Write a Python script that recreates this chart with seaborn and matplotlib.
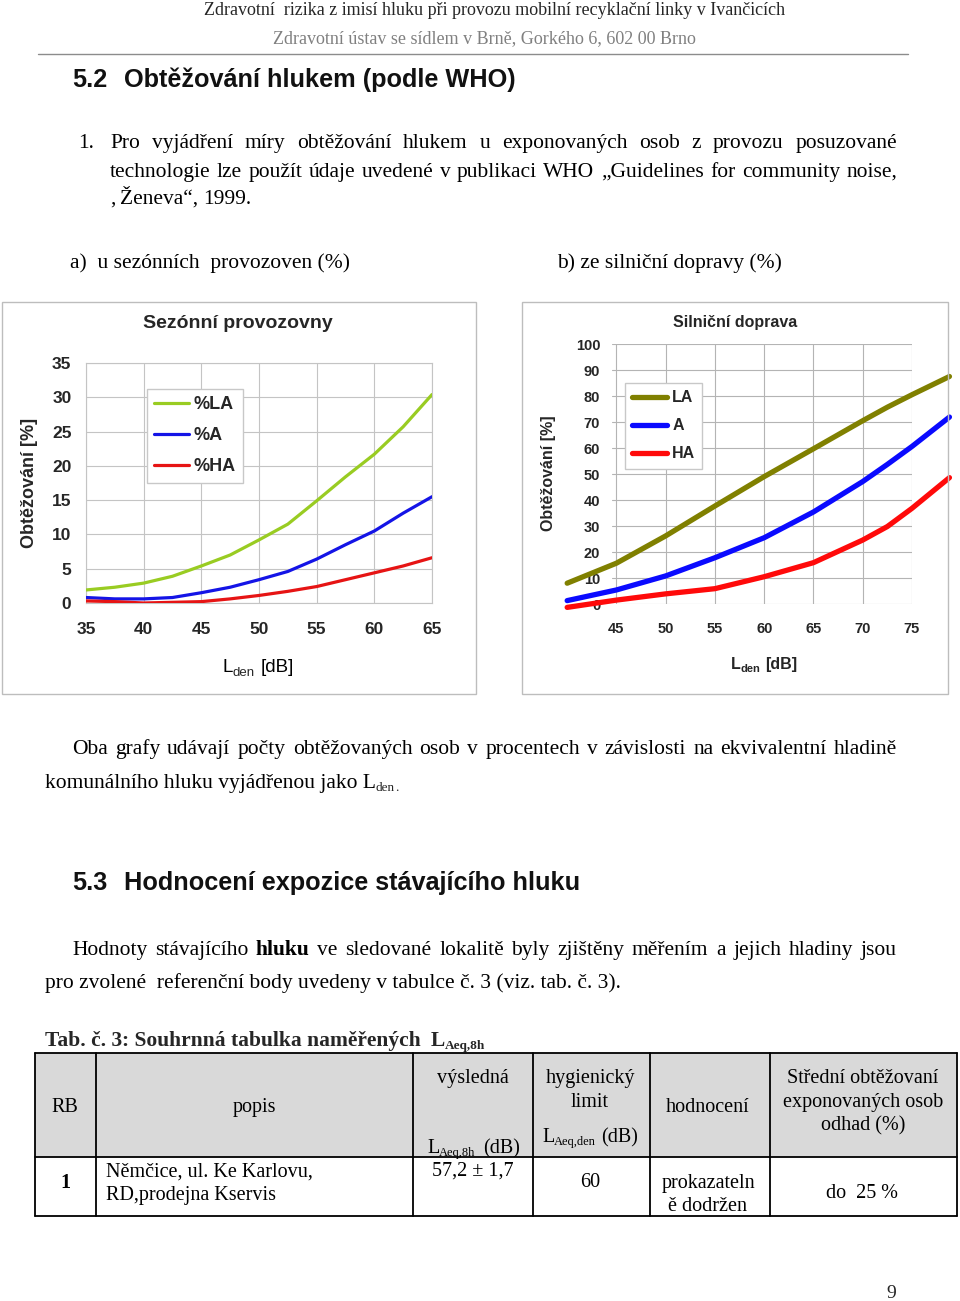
import matplotlib
matplotlib.use('Agg')
import matplotlib.pyplot as plt
from matplotlib.patches import Rectangle
from matplotlib.lines import Line2D
import seaborn as sns
import pandas as pd

# --- data: a) sezonni provozovny
lden_a = [35, 37.5, 40, 42.5, 45, 47.5, 50, 52.5, 55, 57.5, 60, 62.5, 65]
la_a = [1.9, 2.3, 2.9, 3.9, 5.4, 7.0, 9.2, 11.5, 14.9, 18.4, 21.7, 25.7, 30.4]
a_a = [0.8, 0.6, 0.6, 0.8, 1.5, 2.3, 3.4, 4.6, 6.4, 8.5, 10.5, 13.1, 15.5]
ha_a = [0.3, 0.2, 0.0, 0.1, 0.2, 0.6, 1.1, 1.7, 2.4, 3.4, 4.4, 5.4, 6.6]
labels_a = ['%LA', '%A', '%HA']
xticks_a = [35, 40, 45, 50, 55, 60, 65]
yticks_a = [0, 5, 10, 15, 20, 25, 30, 35]

# --- data: b) silnicni doprava
lden_b = [40, 45, 50, 55, 60, 65, 70, 72.5, 75, 78.8]
la_b = [8.0, 15.7, 26.2, 37.7, 49.0, 59.7, 70.5, 75.7, 80.5, 87.5]
a_b = [1.3, 5.4, 10.8, 17.8, 25.5, 35.4, 47.1, 53.7, 60.6, 71.9]
ha_b = [-1.3, 1.5, 3.9, 5.9, 10.5, 15.9, 24.6, 29.8, 36.8, 48.6]
labels_b = ['LA', 'A', 'HA']
xticks_b = [45, 50, 55, 60, 65, 70, 75]
yticks_b = [0, 10, 20, 30, 40, 50, 60, 70, 80, 90, 100]

sns.set_theme(style='white')
SANS = ['Liberation Sans', 'DejaVu Sans']
SERIF = ['Liberation Serif', 'DejaVu Serif']
plt.rcParams['font.family'] = SANS

W, H = 960, 1301
fig = plt.figure(figsize=(9.6, 13.01), dpi=100)
fig.patch.set_facecolor('white')
renderer = fig.canvas.get_renderer()


def fx(x):
    return x / W


def fy(y):
    return 1 - y / H


def ax_at(x0, y0, x1, y1):
    return fig.add_axes([fx(x0), fy(y1), (x1 - x0) / W, (y1 - y0) / H])


def runs(x, y, parts, ha='left'):
    # parts: (text, props, dy, gap before)
    arts = []
    for s, kw, dy, gap in parts:
        t = fig.text(0, 0, s, va='baseline', **kw)
        arts.append((t, dy, gap))
    widths = [t.get_window_extent(renderer).width for t, _, _ in arts]
    total = sum(widths) + sum(g for _, _, g in arts)
    if ha == 'center':
        x -= total / 2
    elif ha == 'right':
        x -= total
    for (t, dy, gap), w in zip(arts, widths):
        x += gap
        t.set_position((fx(x), fy(y + dy)))
        x += w


def justify(x0, x1, y, words, last=False):
    arts = [fig.text(0, 0, w, va='baseline', **kw) for w, kw in words]
    widths = [t.get_window_extent(renderer).width for t in arts]
    if last:
        gap = 5
    else:
        gap = (x1 - x0 - sum(widths)) / (len(words) - 1)
    x = x0
    for t, w in zip(arts, widths):
        t.set_position((fx(x), fy(y)))
        x += w + gap


body = dict(family=SERIF, fontsize=15.5, color='black')
bodyb = dict(family=SERIF, fontsize=15.5, color='black', weight='bold')


def para_line(x0, x1, y, text, last=False, bold_words=()):
    words = [(w, bodyb if w in bold_words else body) for w in text.split()]
    justify(x0, x1, y, words, last)


# --- page header
fig.text(fx(495), fy(15), 'Zdravotní  rizika z imisí hluku při provozu mobilní recyklační linky v Ivančicích',
         family=SERIF, fontsize=13, ha='center', va='baseline')
fig.text(fx(484), fy(43), 'Zdravotní ústav se sídlem v Brně, Gorkého 6, 602 00 Brno',
         family=SERIF, fontsize=13, ha='center', va='baseline', color='#808080')
fig.add_artist(Line2D([fx(38), fx(908)], [fy(54), fy(54)], transform=fig.transFigure, color='#8c8c8c', lw=1))

head = dict(family=SANS, fontsize=18.2, weight='bold', color='#111111')
fig.text(fx(72), fy(87), '5.2', va='baseline', **head)
fig.text(fx(124), fy(87), 'Obtěžování hlukem (podle WHO)', va='baseline', **head)

fig.text(fx(78), fy(148), '1.', va='baseline', **body)
para_line(110, 897, 148, 'Pro vyjádření míry obtěžování hlukem u exponovaných osob z provozu posuzované')
para_line(110, 897, 177, 'technologie lze použít údaje uvedené v publikaci WHO „Guidelines for community noise,')
para_line(110, 897, 204, ', Ženeva“, 1999.', last=True)

fig.text(fx(70), fy(268), 'a)  u sezónních  provozoven (%)', va='baseline', **body)
fig.text(fx(557), fy(268), 'b) ze silniční dopravy (%)', va='baseline', **body)

# --- chart boxes
for x0, x1 in [(2, 476), (522, 948)]:
    fig.add_artist(Rectangle((fx(x0), fy(694)), (x1 - x0) / W, (694 - 302) / H,
                             transform=fig.transFigure, fill=False, ec='#bdbdbd', lw=1))

# --- chart a
df_a = pd.DataFrame({
    'Lden': lden_a * 3,
    'val': la_a + a_a + ha_a,
    'typ': [labels_a[0]] * len(lden_a) + [labels_a[1]] * len(lden_a) + [labels_a[2]] * len(lden_a),
})
ax1 = ax_at(86, 363, 432, 603)
sns.lineplot(data=df_a, x='Lden', y='val', hue='typ', hue_order=labels_a,
             palette=['#99cc22', '#1414e6', '#e61414'], linewidth=2.3, ax=ax1, zorder=3)
ax1.set_xlim(35, 65)
ax1.set_ylim(0, 35)
ax1.set_xticks(xticks_a)
ax1.set_yticks(yticks_a)
ax1.grid(True, color='#c4c4c4', lw=0.8)
for s in ax1.spines.values():
    s.set_color('#c4c4c4')
    s.set_linewidth(0.8)
ax1.set_xlabel('')
ax1.set_ylabel('')
ax1.tick_params(axis='both', length=0, labelsize=12.5)
ax1.tick_params(axis='x', pad=13.5)
ax1.tick_params(axis='y', pad=10.5)
for lab in ax1.get_xticklabels() + ax1.get_yticklabels():
    lab.set_fontweight('bold')
h, l = ax1.get_legend_handles_labels()
ax1.legend(h, l, loc='upper left', bbox_to_anchor=(fx(147), fy(389)), bbox_transform=fig.transFigure,
           borderaxespad=0, frameon=True, fancybox=False, edgecolor='#c8c8c8', framealpha=1,
           prop=dict(family=SANS, size=13, weight='bold'), handlelength=1.9, handletextpad=0.3,
           labelspacing=0.78, borderpad=0.4)
fig.text(fx(238), fy(323), 'Sezónní provozovny', ha='center', va='center', fontsize=14, weight='bold')
fig.text(fx(30), fy(483), 'Obtěžování [%]', ha='center', va='center', rotation=90, fontsize=13, weight='bold')
lab = dict(family=SANS, fontsize=13.5, color='black')
runs(258, 672, [('L', lab, 0, 0), ('den', dict(family=SANS, fontsize=9.5), 4, 0), ('[dB]', lab, 0, 6)], ha='center')

# --- chart b
df_b = pd.DataFrame({
    'Lden': lden_b * 3,
    'val': la_b + a_b + ha_b,
    'typ': [labels_b[0]] * len(lden_b) + [labels_b[1]] * len(lden_b) + [labels_b[2]] * len(lden_b),
})
ax2 = ax_at(612, 344, 912, 604)
sns.lineplot(data=df_b, x='Lden', y='val', hue='typ', hue_order=labels_b,
             palette=['#808000', '#0a0aff', '#ff0a0a'], linewidth=3.8, ax=ax2, zorder=3, clip_on=False)
ax2.set_xlim(44.55, 75)
ax2.set_ylim(0, 100)
ax2.set_xticks(xticks_b)
ax2.set_yticks(yticks_b)
ax2.grid(True, color='#b4b4b4', lw=0.8)
for s in ax2.spines.values():
    s.set_visible(False)
ax2.set_xlabel('')
ax2.set_ylabel('')
ax2.tick_params(axis='both', length=0, labelsize=10.5)
ax2.tick_params(axis='x', pad=13)
ax2.tick_params(axis='y', pad=8.5)
for lab2 in ax2.get_xticklabels() + ax2.get_yticklabels():
    lab2.set_fontweight('bold')
    lab2.set_zorder(5)
h, l = ax2.get_legend_handles_labels()
ax2.legend(h, l, loc='upper left', bbox_to_anchor=(fx(625), fy(383)), bbox_transform=fig.transFigure,
           borderaxespad=0, frameon=True, fancybox=False, edgecolor='#c8c8c8', framealpha=1,
           prop=dict(family=SANS, size=11.5, weight='bold'), handlelength=2.2, handletextpad=0.3,
           labelspacing=0.82, borderpad=0.45)
fig.text(fx(735), fy(323), 'Silniční doprava', ha='center', va='center', fontsize=11.5, weight='bold')
fig.text(fx(549), fy(473), 'Obtěžování [%]', ha='center', va='center', rotation=90, fontsize=11.5, weight='bold')
labb = dict(family=SANS, fontsize=11.5, weight='bold')
runs(764, 669, [('L', labb, 0, 0), ('den', dict(family=SANS, fontsize=8, weight='bold'), 3, 0),
                ('[dB]', labb, 0, 5)], ha='center')

# --- text below charts
para_line(72, 897, 754, 'Oba grafy udávají počty obtěžovaných osob v procentech v závislosti na ekvivalentní hladině')
runs(45, 788, [('komunálního hluku vyjádřenou jako L', body, 0, 0),
               ('den', dict(family=SERIF, fontsize=9.5), 3, 0), ('.', dict(family=SERIF, fontsize=9.5), 3, 0)])

fig.text(fx(72), fy(890), '5.3', va='baseline', **head)
fig.text(fx(124), fy(890), 'Hodnocení expozice stávajícího hluku', va='baseline', **head)
para_line(72, 897, 955, 'Hodnoty stávajícího hluku ve sledované lokalitě byly zjištěny měřením a jejich hladiny jsou',
          bold_words=('hluku',))
fig.text(fx(45), fy(988), 'pro zvolené  referenční body uvedeny v tabulce č. 3 (viz. tab. č. 3).', va='baseline', **body)

# --- table
tb = dict(family=SERIF, fontsize=15.5, weight='bold')
runs(45, 1046, [('Tab. č. 3', tb, 0, 0), (': Souhrnná tabulka naměřených', tb, 0, 0), ('L', tb, 0, 10),
                ('Aeq,8h', dict(family=SERIF, fontsize=9.5, weight='bold'), 3, 0)])

fig.add_artist(Rectangle((fx(35), fy(1157)), (957 - 35) / W, (1157 - 1053) / H,
                         transform=fig.transFigure, fc='#d9d9d9', ec='none'))
for yy in [1053, 1157, 1216]:
    fig.add_artist(Line2D([fx(35), fx(957)], [fy(yy), fy(yy)], transform=fig.transFigure, color='black', lw=1.3))
for xx in [35, 96, 413, 533, 650, 770, 957]:
    fig.add_artist(Line2D([fx(xx), fx(xx)], [fy(1053), fy(1216)], transform=fig.transFigure, color='black', lw=1.3))

tc = dict(family=SERIF, fontsize=14.5, color='black')
tsub = dict(family=SERIF, fontsize=9, color='black')


def ctext(x, y, s, **kw):
    p = dict(tc)
    p.update(kw)
    fig.text(fx(x), fy(y), s, ha='center', va='baseline', **p)


ctext(65, 1112, 'RB')
ctext(254, 1112, 'popis')
ctext(473, 1083, 'výsledná')
runs(427, 1153, [('L', tc, 0, 0), ('Aeq,8h', tsub, 3, 0), ('(dB)', tc, 0, 8)])
ctext(590, 1083, 'hygienický')
ctext(590, 1107, 'limit')
runs(542, 1142, [('L', tc, 0, 0), ('Aeq,den', tsub, 3, 0), ('(dB)', tc, 0, 5)])
ctext(708, 1112, 'hodnocení')
ctext(863, 1083, 'Střední obtěžovaní')
ctext(863, 1107, 'exponovaných osob')
ctext(863, 1130, 'odhad (%)')

ctext(65, 1188, '1', weight='bold')
fig.text(fx(106), fy(1177), 'Němčice, ul. Ke Karlovu,', va='baseline', **tc)
fig.text(fx(106), fy(1200), 'RD,prodejna Kservis', va='baseline', **tc)
ctext(473, 1176, '57,2 ± 1,7')
ctext(590, 1187, '60')
ctext(708, 1188, 'prokazateln')
ctext(708, 1211, 'ě dodržen')
ctext(862, 1198, 'do  25 %')

fig.text(fx(891), fy(1298), '9', family=SERIF, fontsize=14, ha='center', va='baseline')

fig.savefig('out.png', dpi=100, facecolor='white')
